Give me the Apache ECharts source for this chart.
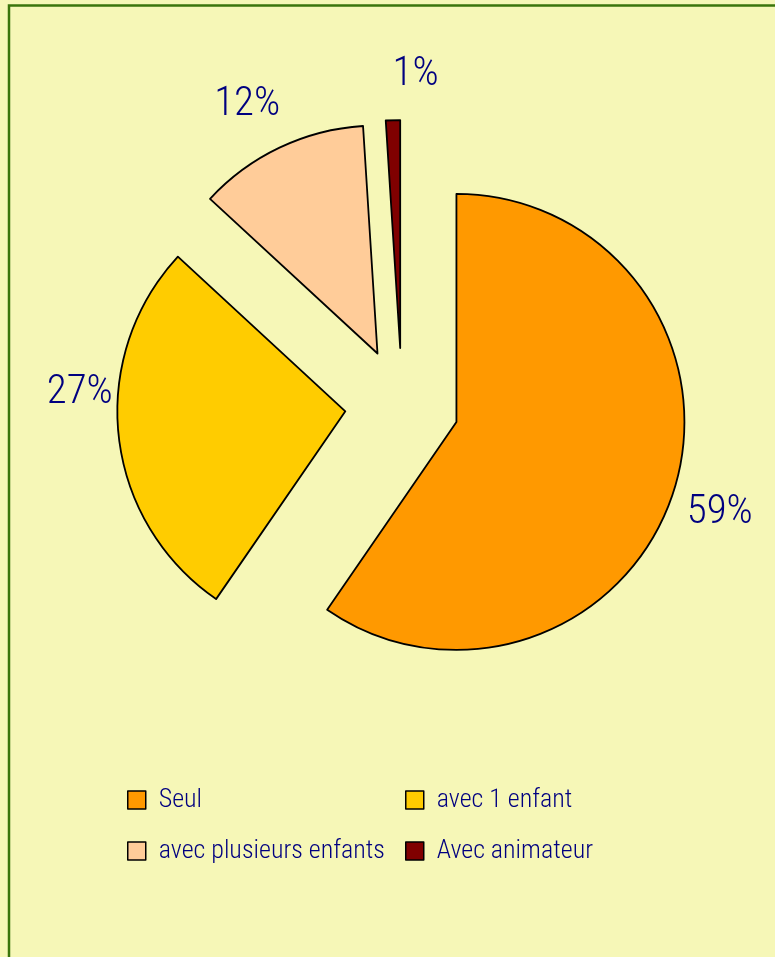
<!DOCTYPE html>
<html>
<head>
<meta charset="utf-8">
<script src="https://cdn.jsdelivr.net/npm/echarts@6/dist/echarts.min.js"></script>
<style>
html,body{margin:0;padding:0;background:#F6F7B7;}
#c{width:775px;height:957px;}
</style>
</head>
<body>
<div id="c"></div>
<script>
const categories = ['Seul', 'avec 1 enfant', 'avec plusieurs enfants', 'Avec animateur'];
const values = [59, 27, 12, 1];
const palette = ['#FF9900', '#FFCC00', '#FFCC99', '#800000'];
const labelShift = [[-2, 20], [9, -45], [10, -34], [51, -35]];

const FONT = '"Roboto Condensed", "DejaVu Sans Condensed", sans-serif';
const NAVY = '#000080';

const chart = echarts.init(document.getElementById('c'));
const legendCommon = {
  orient: 'vertical',
  top: 785,
  padding: 0,
  itemWidth: 18,
  itemHeight: 18,
  itemGap: 21,
  icon: 'rect',
  selectedMode: false,
  itemStyle: {borderColor: '#000', borderWidth: 1.5},
  textStyle: {color: NAVY, fontSize: 26, fontWeight: 300, fontFamily: FONT, lineHeight: 30, padding: [0, 0, 0, 8]}
};
chart.setOption({
  animation: false,
  backgroundColor: '#F6F7B7',
  graphic: [{
    type: 'rect',
    shape: {x: 9, y: 5.5, width: 900, height: 1100},
    style: {fill: 'none', stroke: '#3a750c', lineWidth: 2.5},
    silent: true
  }],
  legend: [
    Object.assign({left: 127, data: [categories[0], categories[2]]}, legendCommon),
    Object.assign({left: 405, data: [categories[1], categories[3]]}, legendCommon)
  ],
  series: [{
    type: 'pie',
    center: [402, 405],
    radius: 228,
    startAngle: 90,
    clockwise: true,
    selectedMode: 'multiple',
    selectedOffset: 57,
    avoidLabelOverlap: false,
    itemStyle: {borderColor: '#000', borderWidth: 1.8},
    select: {itemStyle: {borderColor: '#000', borderWidth: 1.8}},
    emphasis: {disabled: true},
    label: {
      show: true,
      position: 'outside',
      formatter: p => p.value + '%',
      color: NAVY,
      fontSize: 41,
      fontWeight: 300,
      fontFamily: FONT
    },
    labelLine: {show: false, length: 10, length2: 0},
    labelLayout: p => ({dx: labelShift[p.dataIndex][0], dy: labelShift[p.dataIndex][1]}),
    data: categories.map((n, i) => ({
      name: n,
      value: values[i],
      selected: true,
      itemStyle: {color: palette[i]}
    }))
  }]
});
</script>
</body>
</html>
